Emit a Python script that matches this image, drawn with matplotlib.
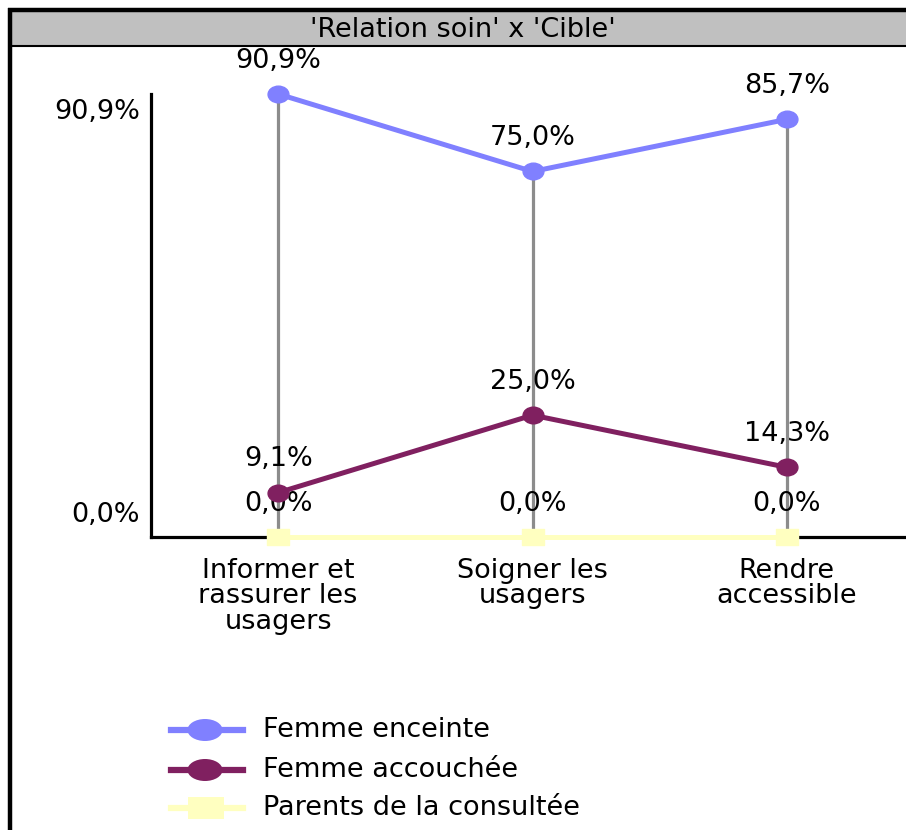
import matplotlib
matplotlib.use("Agg")
import matplotlib.pyplot as plt
from matplotlib.lines import Line2D
from matplotlib.patches import Rectangle, Ellipse
from matplotlib.path import Path
from matplotlib.transforms import Affine2D

# data
categories = ["Informer et\nrassurer les\nusagers", "Soigner les\nusagers", "Rendre\naccessible"]
series_names = ["Femme enceinte", "Femme accouchée", "Parents de la consultée"]
femme_enceinte = [90.9, 75.0, 85.7]
femme_accouchee = [9.1, 25.0, 14.3]
parents_consultee = [0.0, 0.0, 0.0]
y_tick_labels = ["0,0%", "90,9%"]
title = "'Relation soin' x 'Cible'"

W, H = 906, 830
FONT = "DejaVu Sans"
FS = 19.5
plt.rcParams['font.family'] = [FONT]

def fx(x):
    return x / W

def fy(y):
    return 1 - y / H

def pct(v):
    return f"{v:.1f}%".replace(".", ",")

# slightly flattened markers like the original
ellipse = Path.unit_circle().transformed(Affine2D().scale(1.0, 0.8))
square = Path([(-1, -0.72), (1, -0.72), (1, 0.72), (-1, 0.72), (-1, -0.72)],
              [Path.MOVETO, Path.LINETO, Path.LINETO, Path.LINETO, Path.CLOSEPOLY])

colors = ["#8080FF", "#802060", "#FFFFC0"]
markers = [ellipse, ellipse, square]
all_series = [femme_enceinte, femme_accouchee, parents_consultee]

fig = plt.figure(figsize=(W / 100, H / 100), dpi=100)
fig.patch.set_facecolor("white")

# frame and title bar
fig.add_artist(Rectangle((fx(10), fy(46)), fx(W) - fx(10), fy(10) - fy(46),
                         transform=fig.transFigure, facecolor="#C0C0C0", edgecolor="none"))
fig.add_artist(Line2D([fx(10), fx(W)], [fy(46), fy(46)], color="black", lw=1.5))
fig.add_artist(Line2D([fx(8), fx(W)], [fy(10), fy(10)], color="black", lw=3.2,
                      solid_capstyle="butt"))
fig.add_artist(Line2D([fx(10), fx(10)], [fy(8), fy(H)], color="black", lw=3.2,
                      solid_capstyle="butt"))
fig.text(fx(463), fy(30), title, ha="center", va="center", fontsize=FS, family=FONT)

ax = fig.add_axes([fx(151), fy(537), fx(914) - fx(151), fy(94) - fy(537)])
ax.set_xlim(-0.5, 2.5)
ax.set_ylim(0, max(femme_enceinte))
ax.patch.set_alpha(0)

x = list(range(len(categories)))
tops = [max(vals) for vals in zip(*all_series)]
ax.vlines(x, 0, tops, color="#8C8C8C", lw=2.3, zorder=1)

for vals, col, mk in zip(all_series, colors, markers):
    ms = 15 if mk is ellipse else 16
    ax.plot(x, vals, color=col, lw=3.6, marker=mk, ms=ms, mec=col, mfc=col,
            clip_on=False, zorder=4)
    for xi, v in zip(x, vals):
        ax.annotate(pct(v), (xi, v), xytext=(0, 24), textcoords="offset points",
                    ha="center", va="center", fontsize=FS, family=FONT, zorder=3)

for s in ["top", "right"]:
    ax.spines[s].set_visible(False)
for s in ["left", "bottom"]:
    ax.spines[s].set_linewidth(2.3)
ax.spines["bottom"].set_zorder(2)

ax.set_xticks(x)
ax.set_xticklabels(categories, fontsize=FS, family=FONT, linespacing=0.98)
ax.tick_params(axis="x", length=0, pad=15)
ax.set_yticks([])

# y labels sit a bit inside the axis range in the original
ax.annotate(y_tick_labels[1], (-0.5, max(femme_enceinte)), xytext=(-8, -13),
            textcoords="offset points", ha="right", va="center", fontsize=FS, family=FONT)
ax.annotate(y_tick_labels[0], (-0.5, 0), xytext=(-8, 16),
            textcoords="offset points", ha="right", va="center", fontsize=FS, family=FONT)

# legend drawn by hand
legend_rows = [730, 770, 808]
for name, col, mk, yy in zip(series_names, colors, markers, legend_rows):
    fig.add_artist(Line2D([fx(171), fx(243)], [fy(yy), fy(yy)], color=col, lw=4.5))
    if mk is ellipse:
        fig.add_artist(Ellipse((fx(205), fy(yy)), fx(35), 22 / H,
                               transform=fig.transFigure, facecolor=col, edgecolor="none"))
    else:
        fig.add_artist(Rectangle((fx(188), fy(yy + 11)), fx(36), 22 / H,
                                 transform=fig.transFigure, facecolor=col, edgecolor="none"))
    fig.text(fx(263), fy(yy), name, ha="left", va="center", fontsize=FS, family=FONT)

fig.savefig("out.png", dpi=100)
